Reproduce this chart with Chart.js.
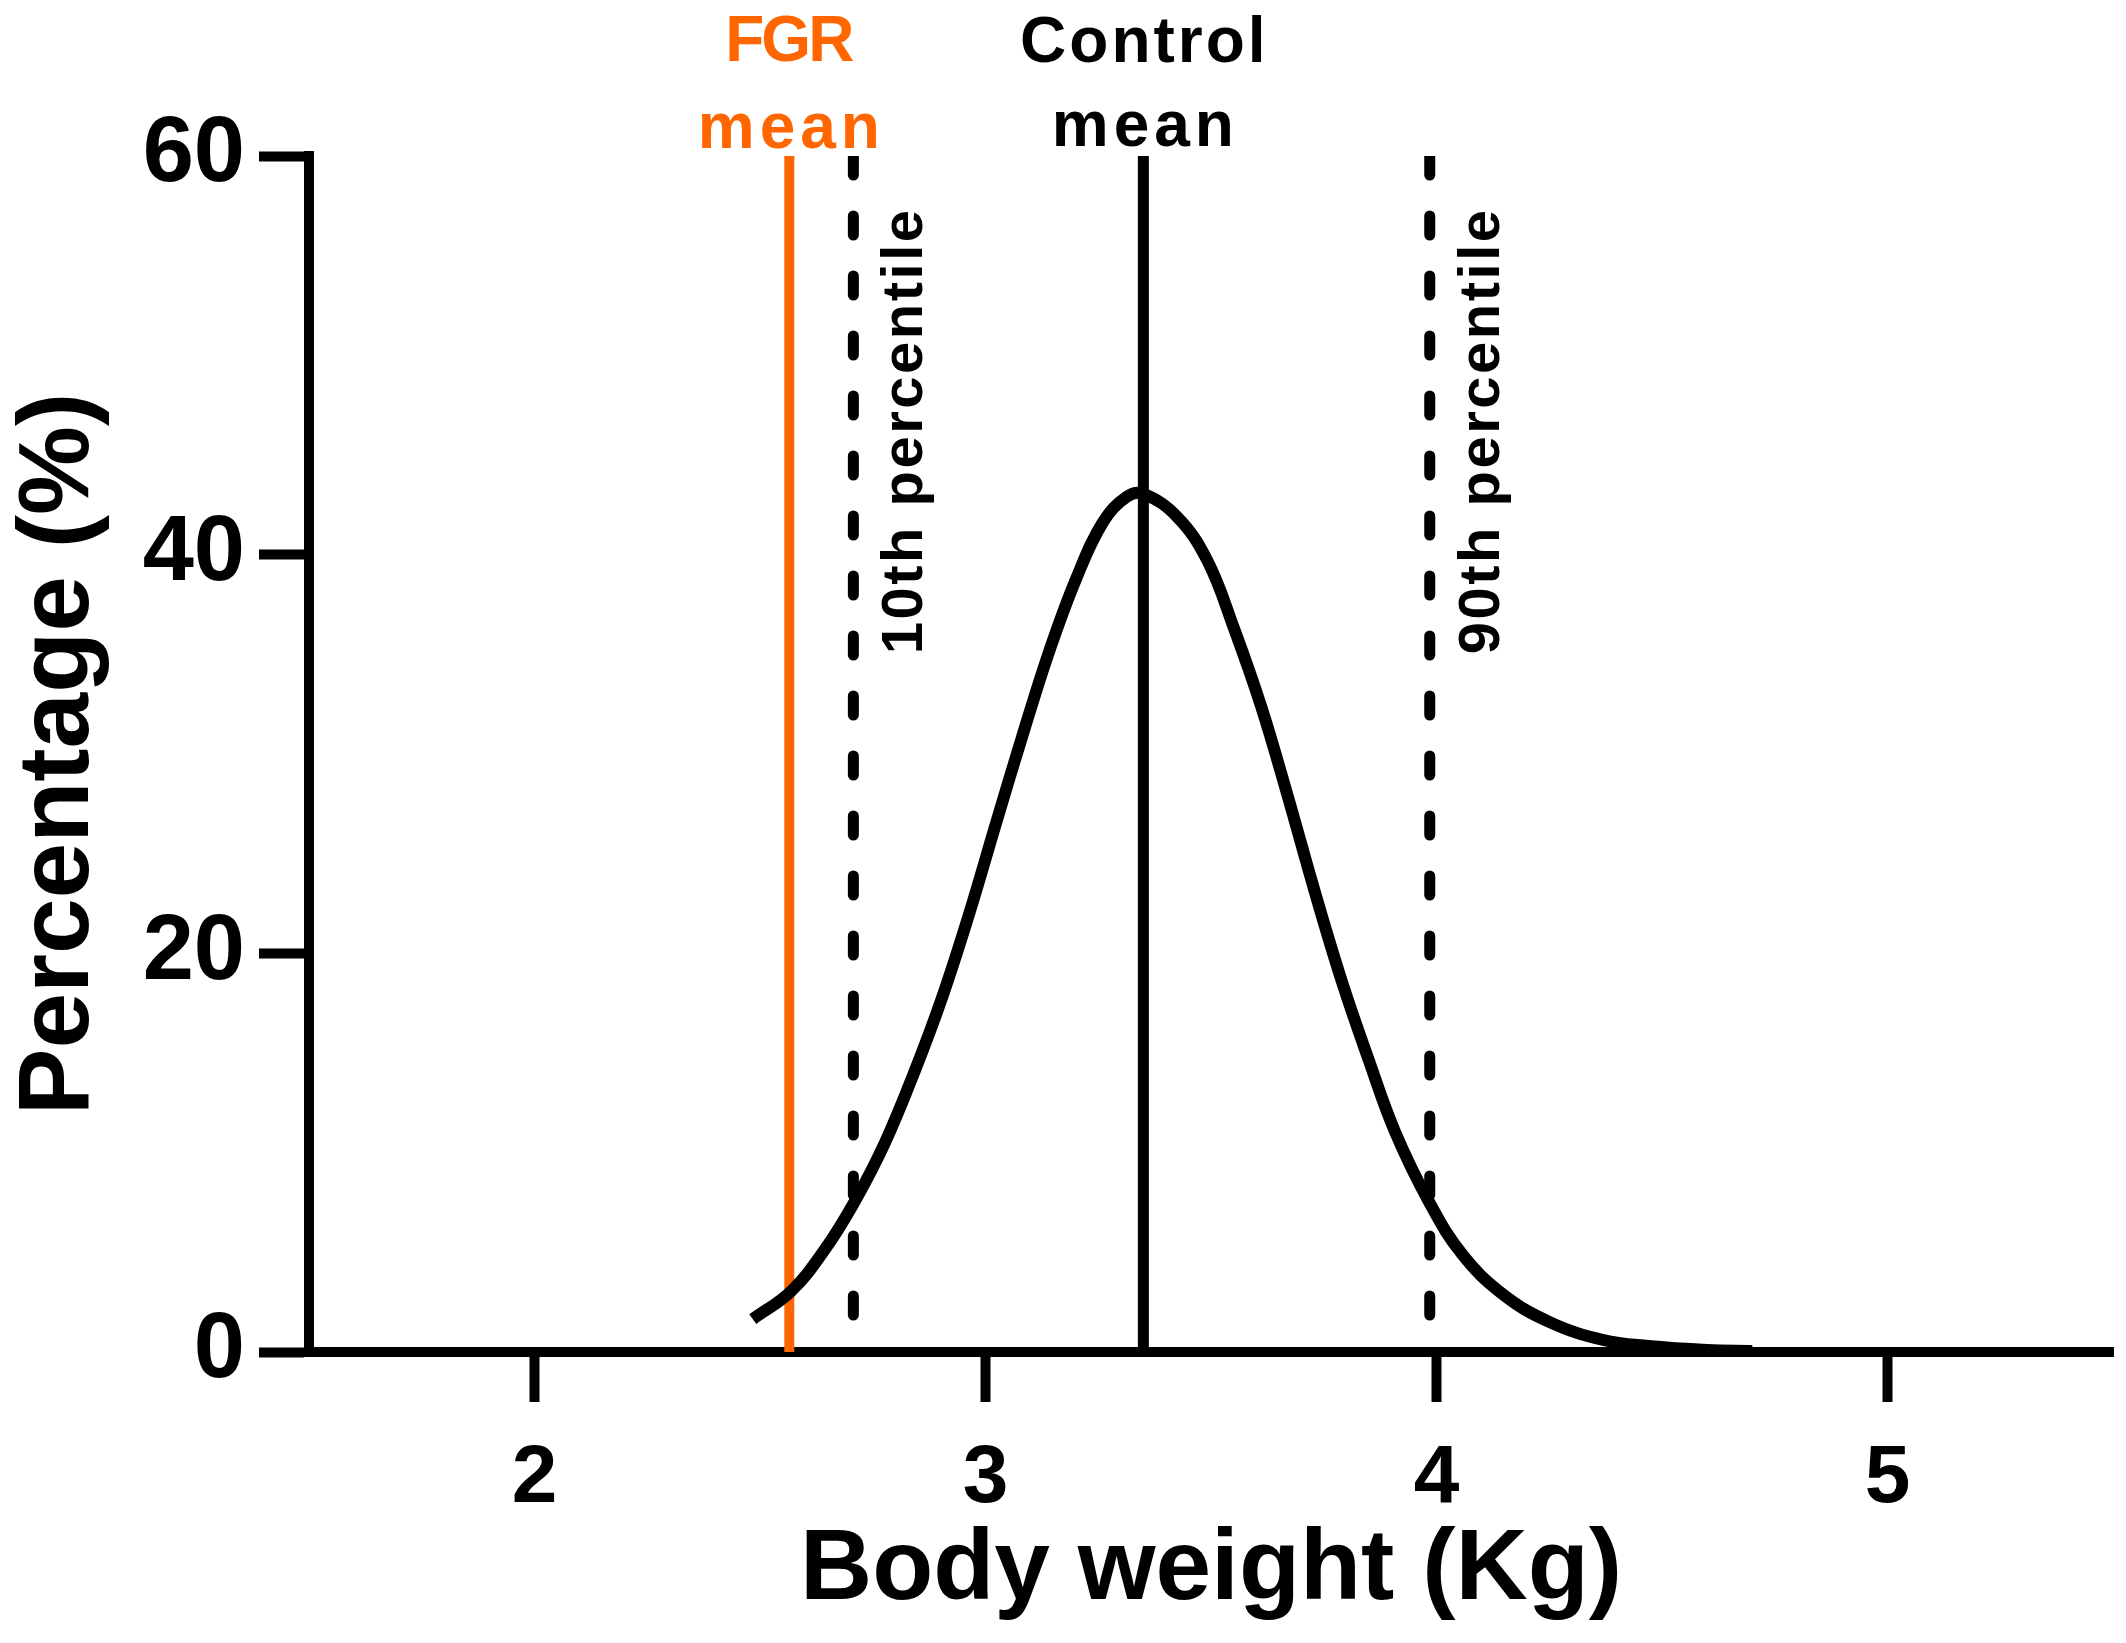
<!DOCTYPE html>
<html>
<head>
<meta charset="utf-8">
<script src="https://cdn.jsdelivr.net/npm/chart.js@4"></script>
<style>
  body { margin: 0; background: #fff; }
  canvas { display: block; }
</style>
</head>
<body>
<canvas id="myChart" width="2126" height="1643"></canvas>
<script>
// curve (body weight in Kg, percentage)
var curveX = [2.484, 2.569, 2.644, 2.710, 2.777, 2.844, 2.904, 2.964, 3.023, 3.083, 3.142, 3.202,
  3.261, 3.313, 3.350, 3.425, 3.492, 3.551, 3.611, 3.670, 3.730, 3.790, 3.849, 3.908, 3.983,
  4.057, 4.147, 4.251, 4.37, 4.47, 4.60, 4.70];
var curveY = [1.65, 3.05, 5.15, 7.55, 10.5, 14.15, 17.8, 22.0, 26.5, 31.0, 35.2, 38.85,
  41.65, 42.9, 43.05, 41.9, 39.7, 36.3, 32.4, 27.9, 23.1, 18.6, 14.7, 11.05, 7.55,
  4.9, 2.9, 1.5, 0.6, 0.3, 0.1, 0.05];

// vertical markers
var fgrMean = 2.565;
var p10 = 2.707;
var controlMean = 3.35;
var p90 = 3.985;
var lineTop = 60;
var dashBottom = 1.5;

var xTicks = [2, 3, 4, 5];
var yTicks = [0, 20, 40, 60];

var orange = "#FF6600";
var fontFamily = "'Liberation Sans', Arial, sans-serif";

function vline(x, bottom) {
  return [{ x: x, y: lineTop }, { x: x, y: bottom }];
}

// text next to the marker lines
var labelPlugin = {
  id: "markerLabels",
  afterDatasetsDraw: function (chart) {
    var ctx = chart.ctx;
    var xs = chart.scales.x;
    var ys = chart.scales.y;
    ctx.save();
    ctx.textAlign = "center";
    ctx.textBaseline = "alphabetic";

    ctx.font = "bold 64px " + fontFamily;
    ctx.fillStyle = orange;
    ctx.letterSpacing = "-3px";
    ctx.fillText("FGR", xs.getPixelForValue(fgrMean) - 1, 61);
    ctx.letterSpacing = "5px";
    ctx.fillText("mean", xs.getPixelForValue(fgrMean) + 2, 148);

    ctx.fillStyle = "#000";
    ctx.letterSpacing = "3px";
    ctx.fillText("Control", xs.getPixelForValue(controlMean) + 1, 62);
    ctx.letterSpacing = "5px";
    ctx.fillText("mean", xs.getPixelForValue(controlMean) + 2, 146);

    // rotated percentile labels
    ctx.font = "bold 58px " + fontFamily;
    ctx.letterSpacing = "2.5px";
    ctx.textAlign = "left";
    [[p10, "10th percentile"], [p90, "90th percentile"]].forEach(function (item) {
      ctx.save();
      ctx.translate(xs.getPixelForValue(item[0]) + 69, ys.getPixelForValue(35));
      ctx.rotate(-Math.PI / 2);
      ctx.fillText(item[1], 0, 0);
      ctx.restore();
    });
    ctx.restore();
  }
};

var ctx = document.getElementById("myChart").getContext("2d");
var chart = new Chart(ctx, {
  type: "line",
  data: {
    datasets: [
      {
        label: "Control",
        data: curveX.map(function (x, i) { return { x: x, y: curveY[i] }; }),
        borderColor: "#000",
        borderWidth: 12,
        pointRadius: 0,
        tension: 0.4,
        fill: false
      },
      {
        label: "Control mean",
        data: vline(controlMean, 0),
        borderColor: "#000",
        borderWidth: 11,
        pointRadius: 0
      },
      {
        label: "10th percentile",
        data: vline(p10, dashBottom),
        borderColor: "#000",
        borderWidth: 11,
        borderDash: [19, 41],
        borderCapStyle: "round",
        pointRadius: 0
      },
      {
        label: "90th percentile",
        data: vline(p90, dashBottom),
        borderColor: "#000",
        borderWidth: 11,
        borderDash: [19, 41],
        borderCapStyle: "round",
        pointRadius: 0
      },
      {
        label: "FGR mean",
        data: vline(fgrMean, 0),
        borderColor: orange,
        borderWidth: 10,
        pointRadius: 0
      }
    ]
  },
  options: {
    responsive: false,
    animation: false,
    devicePixelRatio: 1,
    layout: { padding: { left: 0, right: 13, top: 156, bottom: 0 } },
    plugins: {
      legend: { display: false },
      tooltip: { enabled: false }
    },
    scales: {
      x: {
        type: "linear",
        position: "bottom",
        min: 1.5,
        max: 5.5,
        afterBuildTicks: function (scale) {
          scale.ticks = xTicks.map(function (v) { return { value: v }; });
        },
        afterFit: function (scale) { scale.height = 291; },
        border: { display: true, color: "#000", width: 10 },
        grid: { drawOnChartArea: false, drawTicks: true, tickLength: 50, tickWidth: 10, tickColor: "#000" },
        ticks: { color: "#000", padding: 28, maxRotation: 0, font: { family: fontFamily, size: 82, weight: "bold" } },
        title: {
          display: true,
          text: "Body weight (Kg)",
          color: "#000",
          font: { family: fontFamily, size: 100, weight: "bold" },
          padding: { top: 0, bottom: 12 }
        }
      },
      y: {
        type: "linear",
        position: "left",
        min: 0,
        max: 60,
        afterBuildTicks: function (scale) {
          scale.ticks = yTicks.map(function (v) { return { value: v }; });
        },
        afterFit: function (scale) { scale.width = 309; },
        border: { display: true, color: "#000", width: 10 },
        grid: { drawOnChartArea: false, drawTicks: true, tickLength: 50, tickWidth: 10, tickColor: "#000" },
        ticks: { color: "#000", padding: 14, font: { family: fontFamily, size: 92, weight: "bold" } },
        title: {
          display: true,
          text: "Percentage (%)",
          color: "#000",
          font: { family: fontFamily, size: 100, weight: "bold" },
          padding: { top: 0, bottom: 0 }
        }
      }
    }
  },
  plugins: [labelPlugin]
});
</script>
</body>
</html>
